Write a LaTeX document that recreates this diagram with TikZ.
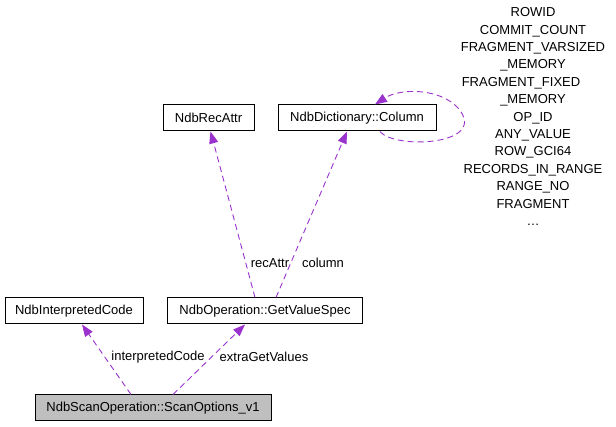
\documentclass[tikz,border=0pt]{standalone}
\usepackage{fontspec}
\setmainfont{Liberation Sans}
\usetikzlibrary{arrows.meta}
\definecolor{edgecol}{HTML}{9A32CD}
\definecolor{boxgray}{HTML}{BFBFBF}
\begin{document}
\begin{tikzpicture}[x=1pt,y=-1pt,
  box/.style={draw, line width=1pt, minimum height=26pt, inner sep=0pt, font=\fontsize{13}{15}\selectfont},
  edge/.style={edgecol, line width=0.9pt, dash pattern=on 6pt off 4pt, -{Triangle[length=12pt,width=9pt]}},
  lbl/.style={font=\fontsize{13}{15}\selectfont, inner sep=0pt}]
\useasboundingbox (0,0) rectangle (616,427);
\node[box, minimum width=91pt] (rec) at (208.5,118) {NdbRecAttr};
\node[box, minimum width=158pt] (col) at (357,118) {NdbDictionary::Column};
\node[box, minimum width=138pt] (interp) at (74,311) {NdbInterpretedCode};
\node[box, minimum width=195pt] (gvs) at (265,311) {NdbOperation::GetValueSpec};
\node[box, minimum width=236pt, fill=boxgray] (scan) at (153,408) {NdbScanOperation::ScanOptions\_v1};

\draw[edge] ([xshift=-22pt]scan.north) -- ([xshift=8pt]interp.south);
\draw[edge] ([xshift=20pt]scan.north) -- ([xshift=-20pt]gvs.south);
\draw[edge] ([xshift=-10pt]gvs.north) .. controls (235,220) .. ([xshift=2pt]rec.south);
\draw[edge] ([xshift=11pt]gvs.north) -- ([xshift=-10pt]col.south);
\draw[edge] ([xshift=23pt]col.south) .. controls (395,150) and (490,145) .. (458,108) .. controls (440,88) and (400,88) .. ([xshift=18pt]col.north);

\node[lbl] (l1) at (158,357) {interpretedCode};
\node[lbl] (l2) at (264,357) {extraGetValues};
\node[lbl] (l3) at (270,263) {recAttr};
\node[lbl] (l4) at (323,263) {column};

\node[lbl, align=center, font=\fontsize{13}{17.4}\selectfont] (list) at (533,116.5) {ROWID\\COMMIT\_COUNT\\FRAGMENT\_VARSIZED\\\_MEMORY\\FRAGMENT\_FIXED\hspace*{24pt}\null\\\_MEMORY\\OP\_ID\\ANY\_VALUE\\ROW\_GCI64\\RECORDS\_IN\_RANGE\\RANGE\_NO\\FRAGMENT\\\dots};
\end{tikzpicture}
\end{document}
